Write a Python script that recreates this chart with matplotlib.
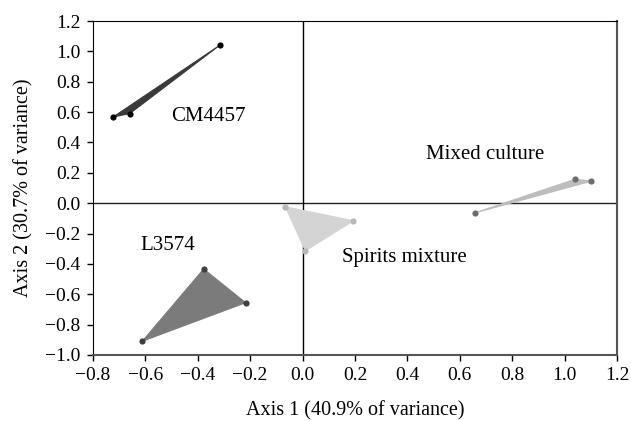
import matplotlib.pyplot as plt
from matplotlib.patches import Polygon

# PCA scores
cm4457_x = [-0.316, -0.722, -0.659]
cm4457_y = [1.04, 0.568, 0.59]

spirits_x = [-0.065, 0.194, 0.011]
spirits_y = [-0.024, -0.116, -0.314]

mixed_x = [0.658, 1.04, 1.102]
mixed_y = [-0.064, 0.158, 0.145]

l3574_x = [-0.377, -0.217, -0.611]
l3574_y = [-0.434, -0.656, -0.910]

groups = [
    ("CM4457", cm4457_x, cm4457_y, "#3a3a3a", "#000000", (-0.50, 0.57)),
    ("Spirits mixture", spirits_x, spirits_y, "#d4d4d4", "#b8b8b8", (0.15, -0.355)),
    ("Mixed culture", mixed_x, mixed_y, "#bdbdbd", "#6e6e6e", (0.47, 0.32)),
    ("L3574", l3574_x, l3574_y, "#7b7b7b", "#404040", (-0.617, -0.276)),
]

plt.rcParams["font.family"] = ["Liberation Serif", "DejaVu Serif"]

fig = plt.figure(figsize=(6.31, 4.21), dpi=100)
ax = fig.add_axes([0.147, 0.157, 0.831, 0.793])

ax.axhline(0, color="#222222", lw=1.0, zorder=1)
ax.axvline(0, color="#000000", lw=1.0, zorder=1)

for name, xs, ys, fill, mk, (tx, ty) in groups:
    poly = Polygon(list(zip(xs, ys)), closed=True, facecolor=fill,
                   edgecolor=fill, lw=0.8, zorder=2)
    ax.add_patch(poly)
    ax.scatter(xs, ys, s=20, color=mk, zorder=3, linewidths=0)
    ax.text(tx, ty, name, fontsize=15, va="center", ha="left", zorder=4)

fmt = plt.FuncFormatter(lambda v, p: f"{v:.1f}".replace("-", "\u2212"))
ax.set_xlim(-0.8, 1.2)
ax.set_ylim(-1.0, 1.2)
ax.set_xticks([-0.8, -0.6, -0.4, -0.2, 0.0, 0.2, 0.4, 0.6, 0.8, 1.0, 1.2])
ax.set_yticks([-1.0, -0.8, -0.6, -0.4, -0.2, 0.0, 0.2, 0.4, 0.6, 0.8, 1.0, 1.2])
ax.xaxis.set_major_formatter(fmt)
ax.yaxis.set_major_formatter(fmt)
ax.tick_params(direction="out", length=4, width=1, labelsize=14, pad=5, colors="#000000")

ax.spines["left"].set_color("#000000")
ax.spines["top"].set_color("#000000")
ax.spines["right"].set_color("#555555")
ax.spines["bottom"].set_color("#555555")
ax.spines["right"].set_linewidth(1.5)
ax.spines["bottom"].set_linewidth(1.5)

ax.set_xlabel("Axis 1 (40.9% of variance)", fontsize=14.5, labelpad=12)
ax.set_ylabel("Axis 2 (30.7% of variance)", fontsize=14.5, labelpad=8)

fig.savefig("out.png", dpi=100)
